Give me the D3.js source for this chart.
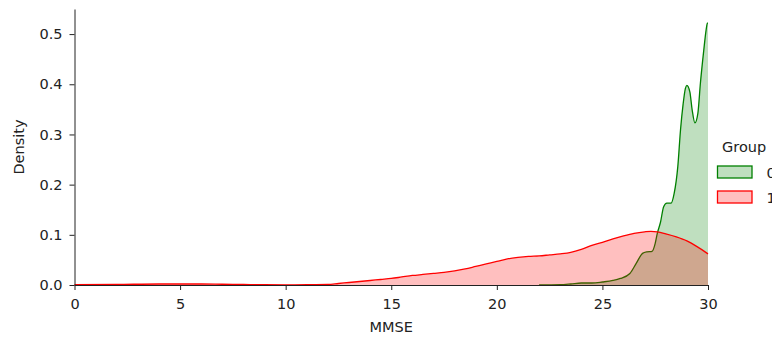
<!DOCTYPE html>
<html>
<head>
<meta charset="utf-8">
<script src="https://cdn.jsdelivr.net/npm/d3@7"></script>
<style>
  body { margin: 0; background: #fff; }
  svg { display: block; font-family: "DejaVu Sans", sans-serif; }
</style>
</head>
<body>
<div class="d3-chart"></div>
<script>
// MMSE grid + estimated density
const group0X = [22, 23, 23.5, 24, 24.5, 25, 25.5, 25.85, 26.3, 26.6, 26.9, 27.1, 27.35, 27.5, 27.6, 27.75, 27.9, 28.05, 28.25, 28.4, 28.57, 28.7, 28.82, 28.93, 29.0, 29.14, 29.25, 29.38, 29.52, 29.64, 29.8, 29.91, 29.97, 30];
const group0Y = [0, 0.0005, 0.002, 0.004, 0.004, 0.006, 0.009, 0.013, 0.023, 0.043, 0.063, 0.066, 0.067, 0.083, 0.103, 0.125, 0.156, 0.163, 0.163, 0.183, 0.236, 0.31, 0.36, 0.392, 0.398, 0.385, 0.349, 0.323, 0.342, 0.402, 0.468, 0.508, 0.522, 0.522];

const group1X = [0, 2, 4, 5, 6, 7, 8, 9, 10, 11, 12, 12.5, 13, 13.5, 14, 14.5, 15, 15.5, 16, 16.5, 17, 17.5, 18, 18.5, 19, 19.5, 20, 20.5, 21, 21.5, 22, 22.5, 23, 23.5, 24, 24.5, 25, 25.5, 26, 26.5, 27, 27.3, 27.6, 28, 28.5, 29, 29.5, 30];
const group1Y = [0.0005, 0.001, 0.002, 0.002, 0.002, 0.0015, 0.001, 0.0005, 0.0003, 0.0005, 0.001, 0.003, 0.005, 0.007, 0.009, 0.011, 0.013, 0.016, 0.019, 0.021, 0.023, 0.025, 0.028, 0.032, 0.037, 0.042, 0.047, 0.052, 0.055, 0.057, 0.058, 0.060, 0.062, 0.065, 0.071, 0.079, 0.085, 0.092, 0.098, 0.103, 0.106, 0.107, 0.106, 0.102, 0.096, 0.088, 0.076, 0.062];

const groups = ["0", "1"];
const xTicks = [0, 5, 10, 15, 20, 25, 30];
const yTicks = [0, 0.1, 0.2, 0.3, 0.4, 0.5];

const width = 772, height = 337;

const svg = d3.select(".d3-chart")
  .append("svg")
  .attr("width", width)
  .attr("height", height);

const x = d3.scaleLinear().domain([0, 30]).range([74.5, 708]);
const y = d3.scaleLinear().domain([0, 0.55]).range([285, 9]);

const color = d3.scaleOrdinal().domain(groups).range(["green", "red"]);

const series = [
  {key: "0", values: group0X.map((v, i) => ({x: v, y: group0Y[i]}))},
  {key: "1", values: group1X.map((v, i) => ({x: v, y: group1Y[i]}))}
];

const area = d3.area()
  .curve(d3.curveMonotoneX)
  .x(d => x(d.x))
  .y0(y(0))
  .y1(d => y(d.y));

const line = d3.line()
  .curve(d3.curveMonotoneX)
  .x(d => x(d.x))
  .y(d => y(d.y));

// green first, red drawn over it
series.forEach(s => {
  svg.append("path")
    .datum(s.values)
    .attr("fill", color(s.key))
    .attr("fill-opacity", 0.25)
    .attr("d", area);
  svg.append("path")
    .datum(s.values)
    .attr("fill", "none")
    .attr("stroke", color(s.key))
    .attr("stroke-width", 1.3)
    .attr("d", line);
});

// axes
const xAxis = svg.append("g")
  .attr("transform", `translate(0, ${y(0)})`)
  .call(d3.axisBottom(x).tickValues(xTicks).tickFormat(d3.format("d"))
    .tickSizeInner(5).tickSizeOuter(0).tickPadding(8.5));

const yAxis = svg.append("g")
  .attr("transform", `translate(${x(0)}, 0)`)
  .call(d3.axisLeft(y).tickValues(yTicks).tickFormat(d3.format(".1f"))
    .tickSizeInner(5).tickSizeOuter(0).tickPadding(7));

[xAxis, yAxis].forEach(g => {
  g.select(".domain").attr("stroke", "#222").attr("stroke-width", 1);
  g.selectAll(".tick line").attr("stroke", "#222");
  g.selectAll("text").attr("fill", "#222").style("font-size", "14.5px")
    .style("font-family", "DejaVu Sans, sans-serif");
});

svg.append("text")
  .attr("x", (x(0) + x(30)) / 2)
  .attr("y", 332)
  .attr("text-anchor", "middle")
  .attr("fill", "#222")
  .style("font-size", "14.5px")
  .text("MMSE");

svg.append("text")
  .attr("transform", `translate(23.5, ${(y(0) + y(0.55)) / 2}) rotate(-90)`)
  .attr("text-anchor", "middle")
  .attr("fill", "#222")
  .style("font-size", "14.5px")
  .text("Density");

// legend (runs off the right edge like the original)
const legend = svg.append("g");
legend.append("text")
  .attr("x", 722)
  .attr("y", 152)
  .attr("fill", "#222")
  .style("font-size", "14.5px")
  .text("Group");

groups.forEach((g, i) => {
  legend.append("rect")
    .attr("x", 717.5)
    .attr("y", 166 + i * 25)
    .attr("width", 34.5)
    .attr("height", 12)
    .attr("fill", color(g))
    .attr("fill-opacity", 0.25)
    .attr("stroke", color(g))
    .attr("stroke-width", 1.3);
  legend.append("text")
    .attr("x", 766.5)
    .attr("y", 177.5 + i * 25)
    .attr("fill", "#222")
    .style("font-size", "14.5px")
    .text(g);
});
</script>
</body>
</html>
